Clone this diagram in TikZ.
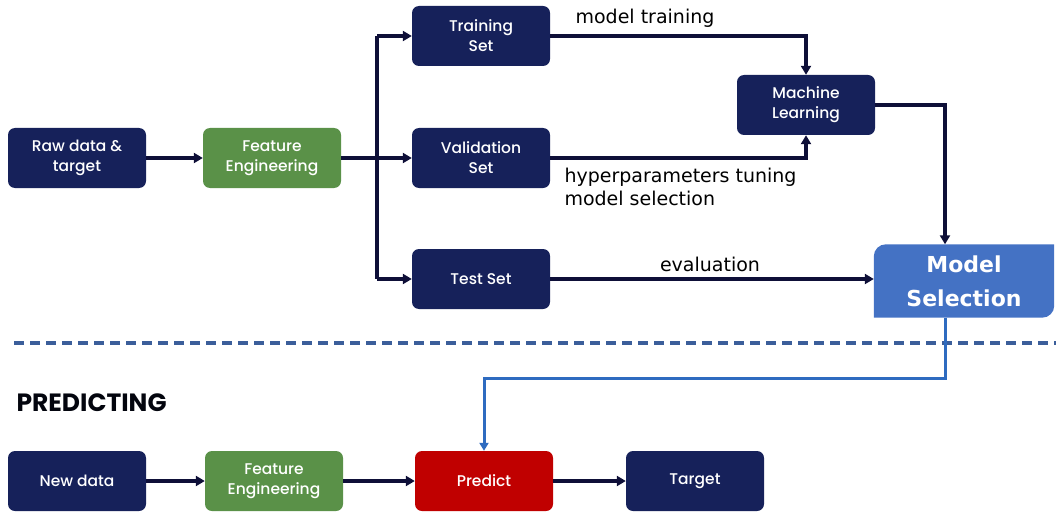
\documentclass[tikz,border=0pt]{standalone}
\usepackage{fontspec}
\setmainfont{Poppins}[UprightFont={* Medium}, BoldFont={* Bold}]
\newfontfamily\labelfont{DejaVu Sans}
\usetikzlibrary{arrows.meta,backgrounds}
\definecolor{navy}{HTML}{16215A}
\definecolor{linkdark}{HTML}{0E0F38}
\definecolor{fegreen}{HTML}{5A9148}
\definecolor{predred}{HTML}{C00000}
\definecolor{msblue}{HTML}{4472C4}
\definecolor{linkblue}{HTML}{2E6BC0}
\definecolor{dashblue}{HTML}{3B5E9A}
\tikzset{
  box/.style={rounded corners=7pt, minimum width=138pt, minimum height=60pt,
    align=center, text=white, font=\fontsize{15.5}{20}\selectfont},
  navybox/.style={box, fill=navy},
  greenbox/.style={box, fill=fegreen},
  redbox/.style={box, fill=predred},
  link/.style={line width=3.2pt, linkdark, -{Triangle[length=9pt,width=10pt]}},
  plain/.style={line width=3.2pt, linkdark},
  lbl/.style={font=\labelfont\fontsize{19}{23}\selectfont, text=black}
}
\begin{document}
\begin{tikzpicture}[x=1pt,y=1pt]
\useasboundingbox (0,0) rectangle (1056,515);
% training
\node[navybox] (raw) at (77,357) {Raw data \&\\target};
\node[greenbox] (fe) at (272,357) {Feature\\Engineering};
\node[navybox] (train) at (481,479) {Training\\Set};
\node[navybox] (valid) at (481,357) {Validation\\Set};
\node[navybox] (test) at (481,236) {Test Set};
\node[navybox] (ml) at (806,410) {Machine\\Learning};
\node[minimum width=180pt, minimum height=73pt] (ms) at (964,234) {};
\begin{scope}[on background layer]
\fill[msblue] (ms.south west) -- ([yshift=-12pt]ms.north west)
  arc (180:90:12pt) -- (ms.north east) -- ([yshift=12pt]ms.south east)
  arc (0:-90:12pt) -- cycle;
\end{scope}
\node[align=center, text=white, font=\labelfont\bfseries\fontsize{22}{34}\selectfont] at (ms) {Model\\Selection};
\coordinate (branch) at (377,357);
\draw[link] (raw) -- (fe);
\draw[link] (fe) -- (valid);
\draw[plain] (branch |- train) -- (branch |- test);
\draw[link] (branch |- train) -- (train);
\draw[link] (branch |- test) -- (test);
\draw[link] (train.east) -| (ml.north);
\draw[link] (valid.east) -| (ml.south);
\coordinate (mstop) at (945,0);
\draw[link] (ml.east) -| (mstop |- ms.north);
\draw[link] (test.east) -- (ms.west |- test.east);
\node[lbl] (lmt) at (645,497) {model training};
\node[lbl, align=left, anchor=north west] (lhp) at (561,350) {hyperparameters tuning\\model selection};
\node[lbl] (lev) at (710,251) {evaluation};
% separator
\draw[dashblue, line width=3.5pt, dash pattern=on 10pt off 6pt] (14,172) -- (1056,172);
\node[anchor=west, font=\bfseries\fontsize{25}{30}\selectfont, text=black!85!navy] (pt) at (13,112) {PREDICTING};
% predicting
\node[navybox] (new) at (77,34) {New data};
\node[greenbox] (fe2) at (274,34) {Feature\\Engineering};
\node[redbox] (pred) at (484,34) {Predict};
\node[navybox] (tgt) at (695,34) {Target};
\draw[link] (new) -- (fe2);
\draw[link] (fe2) -- (pred);
\draw[link] (pred) -- (tgt);
\draw[line width=3pt, linkblue, -{Triangle[length=8pt,width=9pt]}] (mstop |- ms.south) -- (945,137) -| (pred.north);
\end{tikzpicture}
\end{document}
